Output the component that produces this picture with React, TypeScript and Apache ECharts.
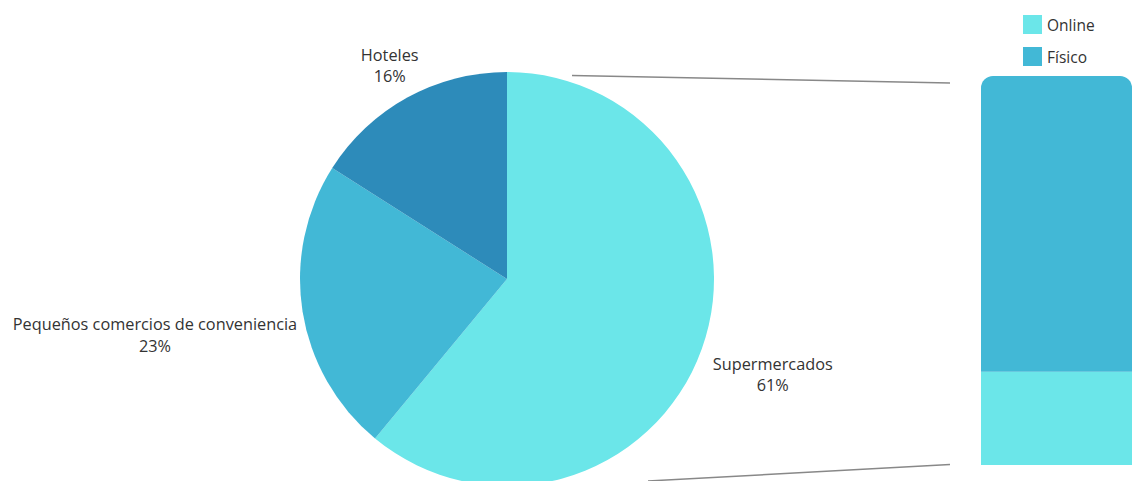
import React, { useEffect, useRef } from "react";
import * as echarts from "echarts";

const pieNames = ["Supermercados", "Pequeños comercios de conveniencia", "Hoteles"];
const pieValues = [61, 23, 16];
const pieColors = ["#6be6e9", "#42b8d6", "#2d8bba"];

const barCategory = ["Supermercados"];
const barSeriesNames = ["Online", "Físico"];
const onlineValues = [24];
const fisicoValues = [76];
const barColors = ["#6be6e9", "#42b8d6"];

const CX = 507;
const CY = 279;
const R = 207;
const GAP = 12;
const LABEL_SIZE = 16.3;
const LINE_H = 21.5;

export default function App() {
  const ref = useRef<HTMLDivElement>(null);
  useEffect(() => {
    if (!ref.current) return;
    const chart = echarts.init(ref.current, null, { renderer: "svg" });
    const total = pieValues.reduce((a, b) => a + b, 0);
    const midAngles: number[] = [];
    let acc = 0;
    pieValues.forEach((v) => {
      const start = 90 - (acc / total) * 360;
      const end = 90 - ((acc + v) / total) * 360;
      midAngles.push(((start + end) / 2) * (Math.PI / 180));
      acc += v;
    });
    const font = "'Open Sans', sans-serif";
    const canvas = document.createElement("canvas");
    const ctx = canvas.getContext("2d")!;
    ctx.font = `${LABEL_SIZE}px 'Open Sans', sans-serif`;
    const labelW = pieNames.map((n, i) =>
      Math.max(ctx.measureText(n).width, ctx.measureText(`${Math.round((pieValues[i] / total) * 100)}%`).width)
    );
    chart.setOption({
      animation: false,
      textStyle: { fontFamily: font },
      legend: {
        data: barSeriesNames,
        orient: "vertical",
        left: 1018,
        top: 10,
        itemWidth: 19,
        itemHeight: 19,
        itemGap: 13,
        icon: "rect",
        textStyle: { fontSize: 15.5, color: "#333", fontFamily: font },
      },
      grid: { left: 981, top: 76, bottom: 16, width: 300 },
      xAxis: { type: "category", data: barCategory, show: false },
      yAxis: { type: "value", min: 0, max: 100, show: false },
      series: [
        {
          type: "pie",
          center: [CX, CY],
          radius: R,
          startAngle: 90,
          clockwise: true,
          data: pieNames.map((n, i) => ({
            name: n,
            value: pieValues[i],
            itemStyle: { color: pieColors[i] },
          })),
          label: {
            show: true,
            position: "outside",
            overflow: "none",
            formatter: (p: any) => `{a|${p.name}}\n{a|${Math.round(p.percent)}%}`,
            rich: {
              a: { fontSize: LABEL_SIZE, lineHeight: LINE_H, color: "#333", align: "center", fontFamily: font },
            },
          },
          labelLine: { show: false },
          labelLayout: (p: any) => {
            const a = midAngles[p.dataIndex];
            const dx = Math.cos(a);
            const dy = -Math.sin(a);
            const w = labelW[p.dataIndex];
            const h = LINE_H * 2;
            const t = Math.min(
              Math.abs(dx) > 1e-6 ? w / 2 / Math.abs(dx) : Infinity,
              Math.abs(dy) > 1e-6 ? h / 2 / Math.abs(dy) : Infinity
            );
            const d = R + GAP + t;
            return {
              x: CX + dx * d,
              y: CY + dy * d,
              align: "center",
              verticalAlign: "middle",
            };
          },
        },
        {
          type: "bar",
          name: barSeriesNames[0],
          stack: "s",
          barWidth: "100%",
          data: onlineValues,
          itemStyle: { color: barColors[0] },
        },
        {
          type: "bar",
          name: barSeriesNames[1],
          stack: "s",
          barWidth: "100%",
          data: fisicoValues,
          itemStyle: { color: barColors[1], borderRadius: [12, 12, 0, 0] },
        },
      ],
      graphic: [
        {
          type: "line",
          shape: { x1: 572, y1: 75.5, x2: 950, y2: 83 },
          style: { stroke: "#888", lineWidth: 1.5 },
        },
        {
          type: "line",
          shape: { x1: 648, y1: 481, x2: 950, y2: 464.5 },
          style: { stroke: "#888", lineWidth: 1.5 },
        },
      ],
    });
    return () => chart.dispose();
  }, []);
  return (
    <div
      ref={ref}
      style={{ position: "absolute", left: 0, top: 0, width: 1132, height: 481 }}
    />
  );
}
